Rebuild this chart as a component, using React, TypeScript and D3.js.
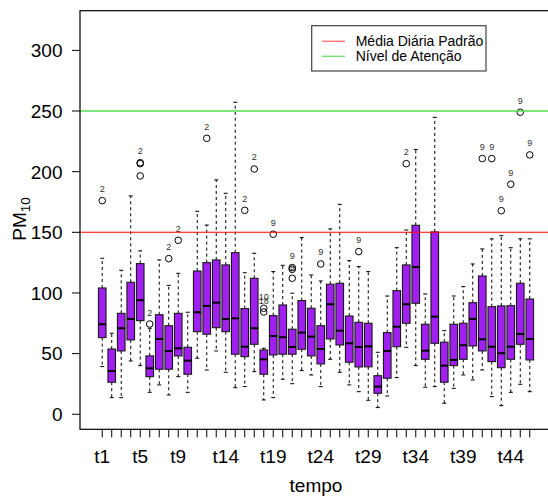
import React from "react";
import * as d3 from "d3";

// Daily PM10 summaries per time step (t1..t46)
const categories = d3.range(1, 47).map((i) => `t${i}`);
const whiskerLow = [39.3, 13.7, 13.7, 43.9, 40.1, 18.1, 24.2, 15.9, 31, 18.1, 46.2, 36.5, 52.2, 34.6, 21.9, 22.8, 35.1, 11.8, 13.7, 28.9, 25.2, 36, 32.4, 22.8, 45.3, 34.6, 24.2, 18.6, 11.5, 5.5, 15.1, 30.2, 55.2, 40.1, 22.3, 22.8, 9.1, 21.4, 32.4, 28.3, 36.5, 14.5, 7.1, 18.1, 24.7, 18.6];
const q1 = [63.2, 26.4, 52.2, 61.3, 77.2, 31, 37.1, 37.1, 48.1, 33, 68.1, 66, 71.4, 68.1, 49.5, 47.5, 57.7, 33, 48.9, 49.5, 49.5, 53.6, 48.1, 41.5, 62.1, 57.1, 42.9, 39, 39.1, 17.3, 29.7, 55.7, 75, 91.5, 45.3, 58.5, 26.4, 40.1, 45.3, 56.3, 52.2, 43.4, 38.4, 45.3, 57.7, 44.8];
const medians = [74.2, 35.7, 70.9, 78.6, 94, 37.9, 62.1, 52.2, 54.4, 44.2, 84.1, 89.3, 92, 78.6, 79.1, 55.7, 70.9, 45.3, 64.5, 63.5, 55.5, 67.3, 64, 53.8, 90.7, 68.9, 58.5, 55.5, 56, 22.8, 52.2, 72.2, 90.7, 121.3, 52.4, 80.5, 40.1, 44.8, 56.9, 78.6, 61.8, 55.7, 50.3, 55.7, 66.2, 62.1];
const q3 = [104.1, 53.8, 83.2, 108.8, 124.2, 48.1, 82.1, 73, 83.2, 55.2, 118.1, 125, 127.2, 123.1, 133.2, 87.1, 112.1, 53, 81.3, 90.1, 70.1, 93.7, 87.4, 73, 107.2, 108, 81, 75.8, 75, 31.8, 67.3, 101.9, 123.1, 155.8, 74.2, 150.3, 59.4, 74.2, 75, 92, 114, 88.7, 89.3, 89.5, 108, 95];
const whiskerHigh = [128.6, 66.8, 118.7, 180, 134.7, 70.9, 127.2, 106.3, 116.2, 84.1, 167.3, 156, 193.2, 182.2, 257.2, 116.7, 132.7, 54.4, 117.6, 122.8, 99.8, 145.6, 114.8, 109.9, 152.8, 173.1, 126.6, 121.7, 117.6, 51.1, 97.5, 137.3, 151.9, 218.2, 99.2, 244.8, 68.9, 97.5, 105.2, 123.9, 136.3, 144.6, 147.2, 137.3, 144.6, 144.6];

// Outlying days: box index (1-based), value, identifying label ("" = unlabeled)
const outlierBox = [1, 5, 5, 5, 6, 8, 9, 12, 16, 17, 18, 18, 19, 21, 21, 21, 24, 28, 33, 41, 42, 43, 44, 45, 46];
const outlierValue = [176.1, 207.4, 206.6, 196.5, 74.4, 128.3, 143.4, 227.5, 168.1, 202.2, 87.4, 84.3, 148.4, 120.9, 119.5, 112.1, 123.9, 134.1, 206.6, 210.8, 210.8, 167.8, 189.6, 249, 213.8];
const outlierLabel = ["2", "2", "", "", "2", "2", "2", "2", "2", "2", "10", "18", "9", "9", "", "9", "9", "9", "2", "9", "9", "9", "9", "9", "9"];

const labelledTicks = ["t1", "t5", "t9", "t14", "t19", "t24", "t29", "t34", "t39", "t44"];
const yTicks = [0, 50, 100, 150, 200, 250, 300];

const refLines = [
  { value: 150, color: "#ff0000", width: 1.1, legendColor: "#ff7777", name: "Média Diária Padrão" },
  { value: 250, color: "#55dd55", width: 1.6, legendColor: "#77e077", name: "Nível de Atenção" },
];

const W = 548;
const H = 497;
const FONT = "'Liberation Sans', Arial, Helvetica, sans-serif";

export default function App() {
  const x = d3.scaleLinear().domain([-1.34, 48.34]).range([80, 552]);
  const y = d3.scaleLinear().domain([-12.4, 332.7]).range([429.3, 10.7]);
  const boxW = 7.6;
  const capW = 4;
  const plotTop = y(332.7);
  const plotBottom = y(-12.4);

  return (
    <svg
      width={W}
      height={H}
      style={{ position: "absolute", left: 0, top: 0, background: "#fff" }}
      fontFamily={FONT}
    >
      {/* boxes */}
      {categories.map((c, i) => {
        const cx = x(i + 1);
        return (
          <g key={c}>
            <line x1={cx} x2={cx} y1={y(q3[i])} y2={y(whiskerHigh[i])} stroke="#000" strokeWidth={1} strokeDasharray="3,3" />
            <line x1={cx} x2={cx} y1={y(q1[i])} y2={y(whiskerLow[i])} stroke="#000" strokeWidth={1} strokeDasharray="3,3" />
            <line x1={cx - capW / 2} x2={cx + capW / 2} y1={y(whiskerHigh[i])} y2={y(whiskerHigh[i])} stroke="#000" strokeWidth={1} />
            <line x1={cx - capW / 2} x2={cx + capW / 2} y1={y(whiskerLow[i])} y2={y(whiskerLow[i])} stroke="#000" strokeWidth={1} />
            <rect
              x={cx - boxW / 2}
              y={y(q3[i])}
              width={boxW}
              height={y(q1[i]) - y(q3[i])}
              fill="#a020f0"
              stroke="#1a1a1a"
              strokeWidth={1.1}
            />
            <line x1={cx - boxW / 2} x2={cx + boxW / 2} y1={y(medians[i])} y2={y(medians[i])} stroke="#000" strokeWidth={2} />
          </g>
        );
      })}

      {/* outliers */}
      {outlierBox.map((b, k) => (
        <g key={`o${k}`}>
          <circle cx={x(b)} cy={y(outlierValue[k])} r={3.3} fill="none" stroke="#000" strokeWidth={1} />
          {outlierLabel[k] && (
            <text x={x(b)} y={y(outlierValue[k]) - 8.5} fontSize={9} fill="#333" textAnchor="middle">
              {outlierLabel[k]}
            </text>
          )}
        </g>
      ))}

      {/* reference levels */}
      {refLines.map((r) => (
        <line key={r.name} x1={80} x2={552} y1={y(r.value)} y2={y(r.value)} stroke={r.color} strokeWidth={r.width} />
      ))}

      {/* frame */}
      <rect x={80} y={plotTop} width={472} height={plotBottom - plotTop} fill="none" stroke="#000" strokeWidth={1.2} />

      {/* y axis */}
      {yTicks.map((t) => (
        <g key={`y${t}`}>
          <line x1={72} x2={80} y1={y(t)} y2={y(t)} stroke="#000" strokeWidth={1} />
          <text x={62.5} y={y(t)} dy="0.36em" fontSize={19} textAnchor="end" fill="#000">
            {t}
          </text>
        </g>
      ))}
      <text
        transform={`translate(25.5, 219) rotate(-90)`}
        fontSize={19}
        textAnchor="middle"
        fill="#000"
      >
        PM
        <tspan fontSize={13.5} dy={4.5}>10</tspan>
      </text>

      {/* x axis */}
      {categories.map((c, i) => (
        <line key={`xt${c}`} x1={x(i + 1)} x2={x(i + 1)} y1={plotBottom} y2={plotBottom + 8} stroke="#000" strokeWidth={1} />
      ))}
      {categories.map((c, i) =>
        labelledTicks.includes(c) ? (
          <text key={`xl${c}`} x={x(i + 1)} y={463} fontSize={19} textAnchor="middle" fill="#000">
            {c}
          </text>
        ) : null
      )}
      <text x={316} y={492} fontSize={19} textAnchor="middle" fill="#000">
        tempo
      </text>

      {/* legend */}
      <g>
        <rect x={311.7} y={25.7} width={174.3} height={45.3} fill="#fff" stroke="#444" strokeWidth={1.2} />
        {refLines.map((r, k) => (
          <g key={`lg${k}`}>
            <line x1={322} x2={345} y1={41.3 + k * 15} y2={41.3 + k * 15} stroke={r.legendColor} strokeWidth={1.4} />
            <text x={355.7} y={46 + k * 15} fontSize={14} fill="#000">
              {r.name}
            </text>
          </g>
        ))}
      </g>
    </svg>
  );
}
